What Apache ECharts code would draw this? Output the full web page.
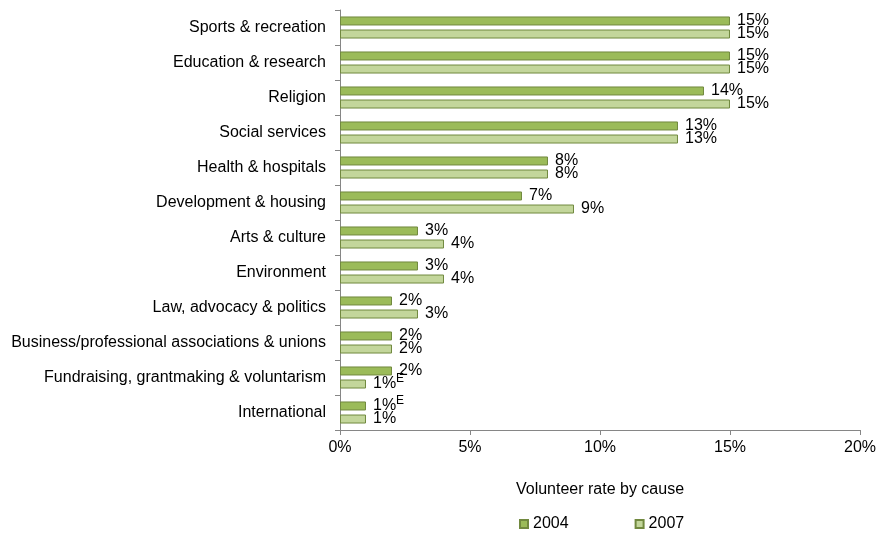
<!DOCTYPE html>
<html>
<head>
<meta charset="utf-8">
<script src="https://cdn.jsdelivr.net/npm/echarts@6/dist/echarts.min.js"></script>
<style>html,body{margin:0;padding:0;background:#fff}#c{width:879px;height:533px}</style>
</head>
<body>
<div id="c"></div>
<script>
var categories = ["Sports & recreation","Education & research","Religion","Social services","Health & hospitals","Development & housing","Arts & culture","Environment","Law, advocacy & politics","Business/professional associations & unions","Fundraising, grantmaking & voluntarism","International"];
var values2004 = [15,15,14,13,8,7,3,3,2,2,2,1];
var values2007 = [15,15,15,13,8,9,4,4,3,2,1,1];
var flag2004 = ["","","","","","","","","","","","E"];
var flag2007 = ["","","","","","","","","","","E",""];
var xTicks = [0,5,10,15,20];

var font = "Liberation Sans, Arial, sans-serif";
function mk(vals, flags){
  return vals.map(function(v,i){
    return {value:v, flag:flags[i]};
  });
}
function fmt(p){
  var f = p.data.flag;
  return p.value + "%" + (f ? "{sup|" + f + "}" : "");
}
var labelCfg = {
  show:true, position:"right", distance:7, formatter:fmt,
  color:"#000", fontFamily:font, fontSize:16,
  rich:{sup:{fontSize:12, verticalAlign:"top", padding:[0,0,10,0], color:"#000", fontFamily:font}}
};
var chart = echarts.init(document.getElementById("c"));
chart.setOption({
  animation:false,
  textStyle:{fontFamily:font},
  grid:{left:340, right:15, top:10, bottom:103, containLabel:false},
  legend:{
    top:511, left:514, itemWidth:8, itemHeight:8, itemGap:66,
    textStyle:{fontFamily:font, fontSize:16, color:"#000"},
    icon:"rect",
    data:["2004","2007"]
  },
  xAxis:{
    type:"value", min:xTicks[0], max:xTicks[xTicks.length-1], interval:5,
    name:"Volunteer rate by cause", nameLocation:"middle", nameGap:52,
    nameTextStyle:{fontFamily:font, fontSize:16, color:"#000"},
    axisLine:{show:true, lineStyle:{color:"#868686"}},
    axisTick:{show:true, length:5, lineStyle:{color:"#868686"}},
    splitLine:{show:false},
    axisLabel:{color:"#000", fontSize:16, fontFamily:font, margin:10,
      formatter:function(v){ return v + "%"; }}
  },
  yAxis:{
    type:"category", inverse:true, data:categories,
    axisLine:{show:true, lineStyle:{color:"#868686"}},
    axisTick:{show:true, length:5, lineStyle:{color:"#868686"}},
    axisLabel:{color:"#000", fontSize:16, fontFamily:font, margin:14}
  },
  series:[
    {name:"2004", type:"bar", data:mk(values2004, flag2004),
     barWidth:9, barGap:"45%",
     itemStyle:{color:"#9bbb59", borderColor:"#71893f", borderWidth:1},
     label:labelCfg},
    {name:"2007", type:"bar", data:mk(values2007, flag2007),
     barWidth:9,
     itemStyle:{color:"#c3d69b", borderColor:"#71893f", borderWidth:1},
     label:labelCfg}
  ]
});
</script>
</body>
</html>
